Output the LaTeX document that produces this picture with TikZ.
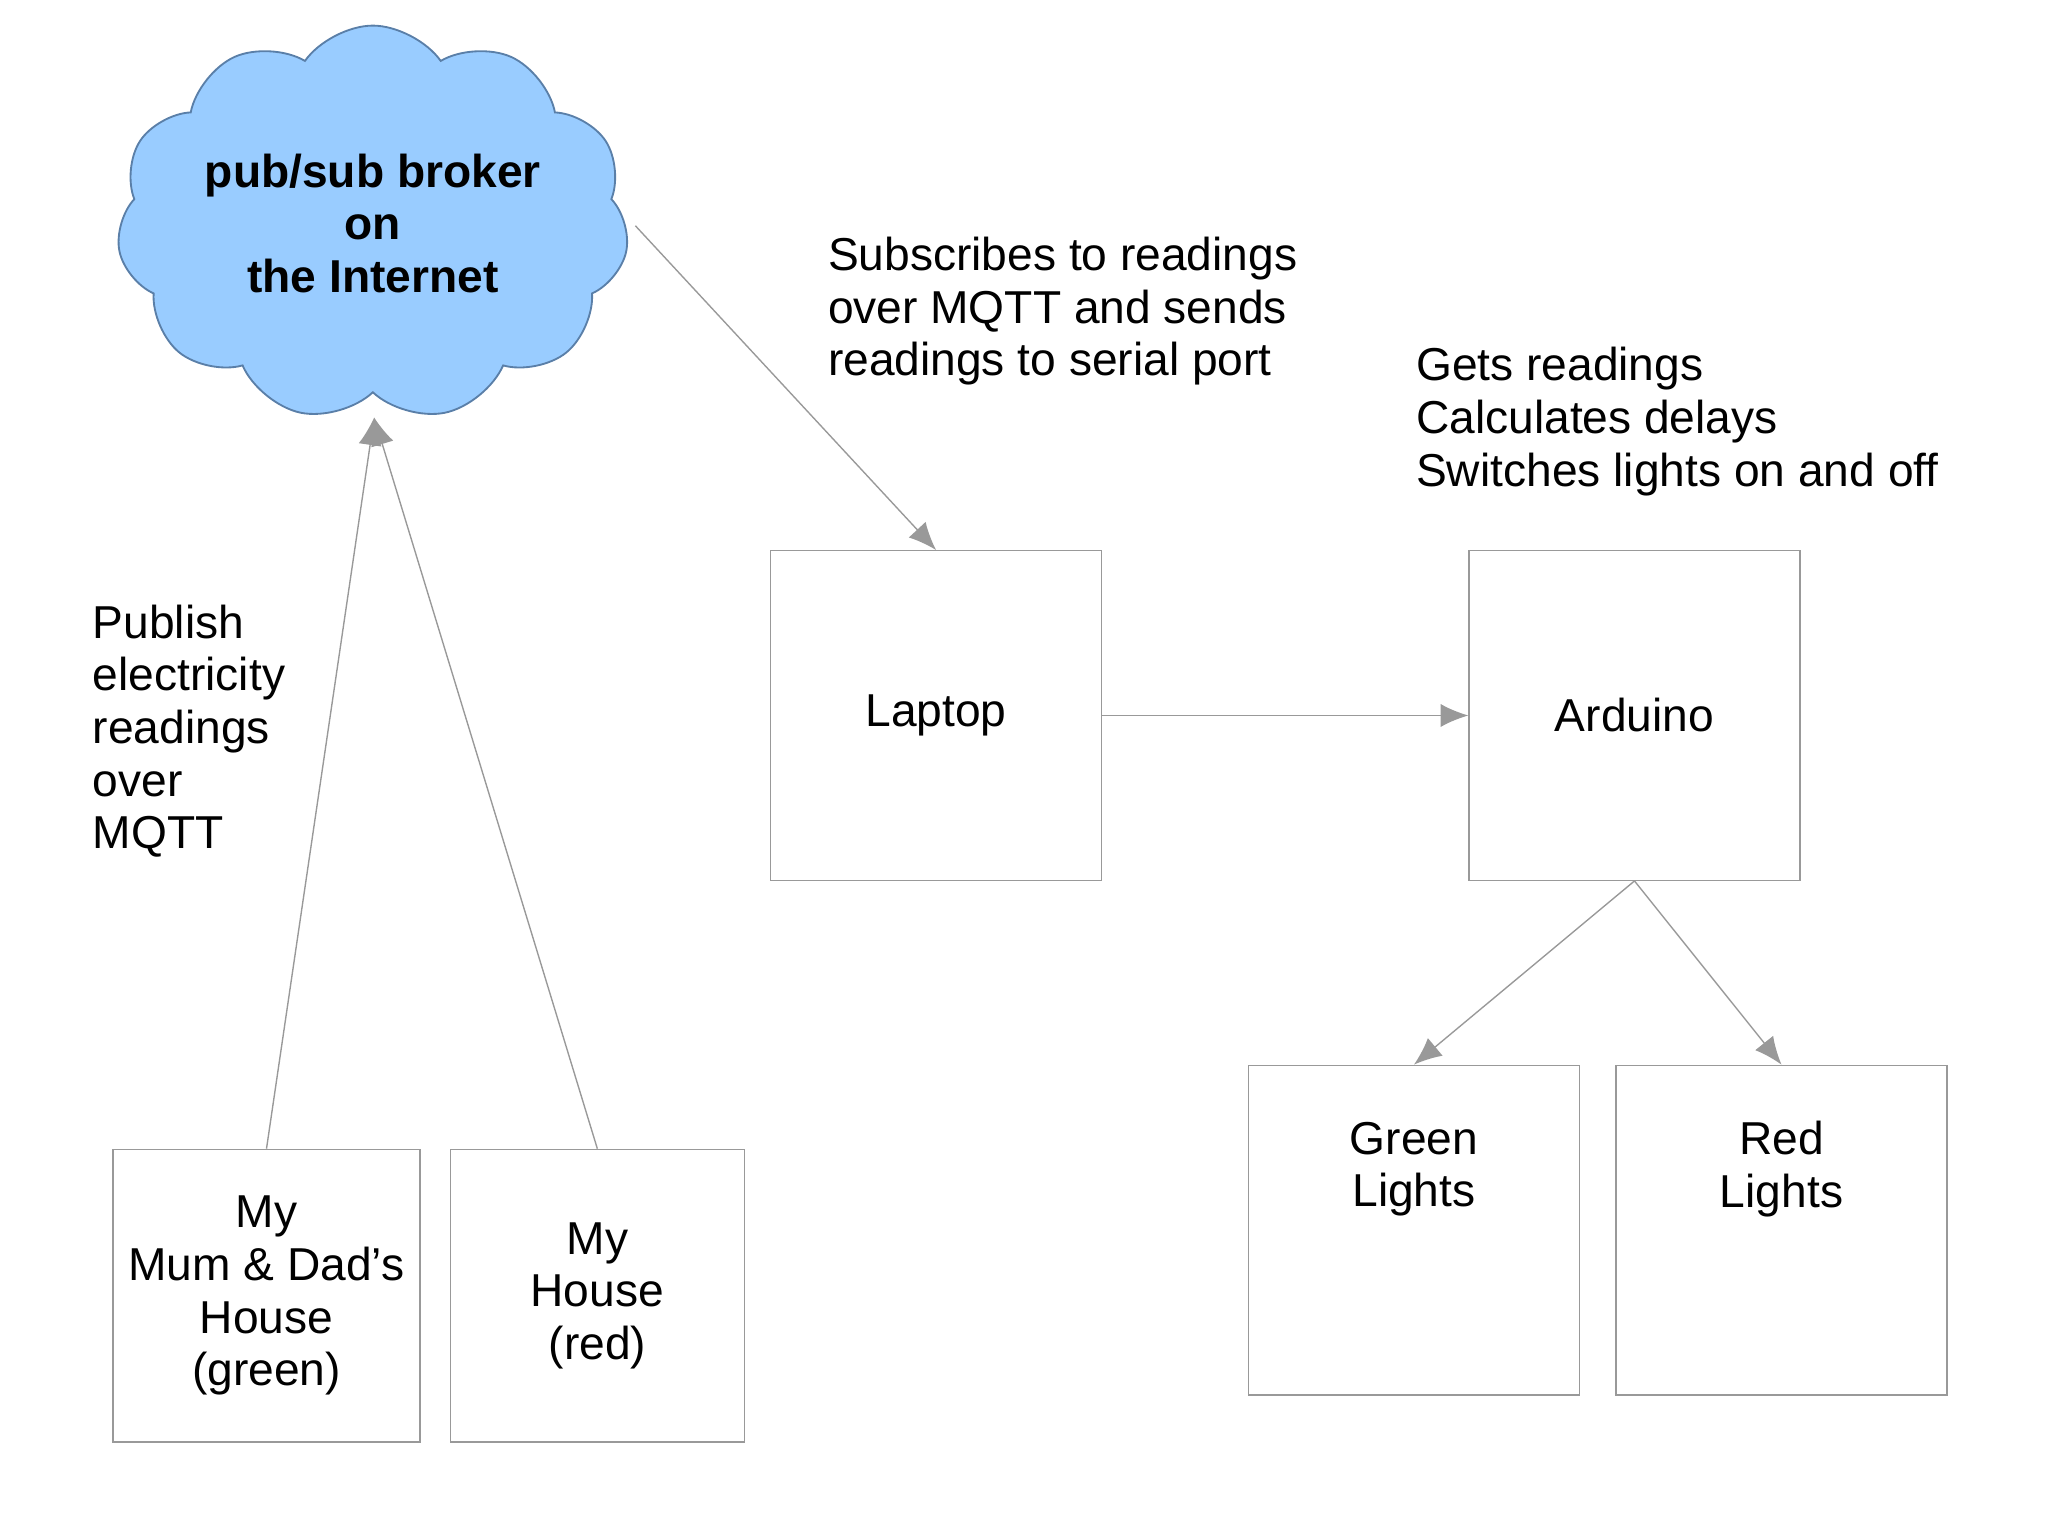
\documentclass[tikz,border=0pt]{standalone}
\usepackage{fontspec}
\setmainfont{Liberation Sans}
\usetikzlibrary{positioning,shapes.symbols,arrows.meta}
\definecolor{cloudblue}{HTML}{99CCFF}
\definecolor{cloudline}{HTML}{5A7FA8}
\tikzset{
  box/.style={draw=gray!80, line width=0.3pt, minimum width=2.52cm, minimum height=2.51cm, align=center, font=\fontsize{10}{11.4}\selectfont},
  smallbox/.style={box, minimum width=2.24cm, minimum height=2.23cm},
  note/.style={align=left, anchor=north west, inner sep=0pt, font=\fontsize{10}{11.4}\selectfont},
  link/.style={draw=gray!80, line width=0.3pt, -{Latex[length=6pt,width=5pt]}}
}
\begin{document}
\begin{tikzpicture}[x=1cm, y=1cm]
  \useasboundingbox (0,0) rectangle (15.6,11.69);
  \node (broker) [cloud, cloud puffs=11, cloud puff arc=110, aspect=1.4, draw=cloudline, fill=cloudblue,
    minimum width=3.9cm, minimum height=2.8cm, align=center, inner sep=0pt,
    font=\fontsize{10}{11.4}\selectfont\bfseries] at (2.84,9.99) {pub/sub broker\\on\\the Internet};
  \node (laptop) [box] at (7.13,6.24) {Laptop};
  \node (arduino) [box] at (12.45,6.24) {Arduino};
  \node (green) [box] at (10.77,2.32) {Green\\Lights\\[0.6cm]};
  \node (red) [box] at (13.57,2.32) {Red\\Lights\\[0.6cm]};
  \node (mum) [smallbox] at (2.03,1.82) {My\\Mum \& Dad's\\House\\(green)};
  \node (house) [smallbox] at (4.55,1.82) {My\\House\\(red)};
  \node (subnote) [note] at (6.30,9.89) {Subscribes to readings\\over MQTT and sends\\readings to serial port};
  \node (ardnote) [note] at (10.78,9.05) {Gets readings\\Calculates delays\\Switches lights on and off};
  \node (pubnote) [note] at (0.70,7.09) {Publish\\electricity\\readings\\over\\MQTT};
  \coordinate (cloudtip) at (2.85,8.51);
  \coordinate (cloudout) at (4.84,9.97);
  \draw[link] (mum.north) -- (cloudtip);
  \draw[link] (house.north) -- (cloudtip);
  \draw[link] (cloudout) -- (laptop.north);
  \draw[link] (laptop) -- (arduino);
  \draw[link] (arduino.south) -- (green.north);
  \draw[link] (arduino.south) -- (red.north);
\end{tikzpicture}
\end{document}
